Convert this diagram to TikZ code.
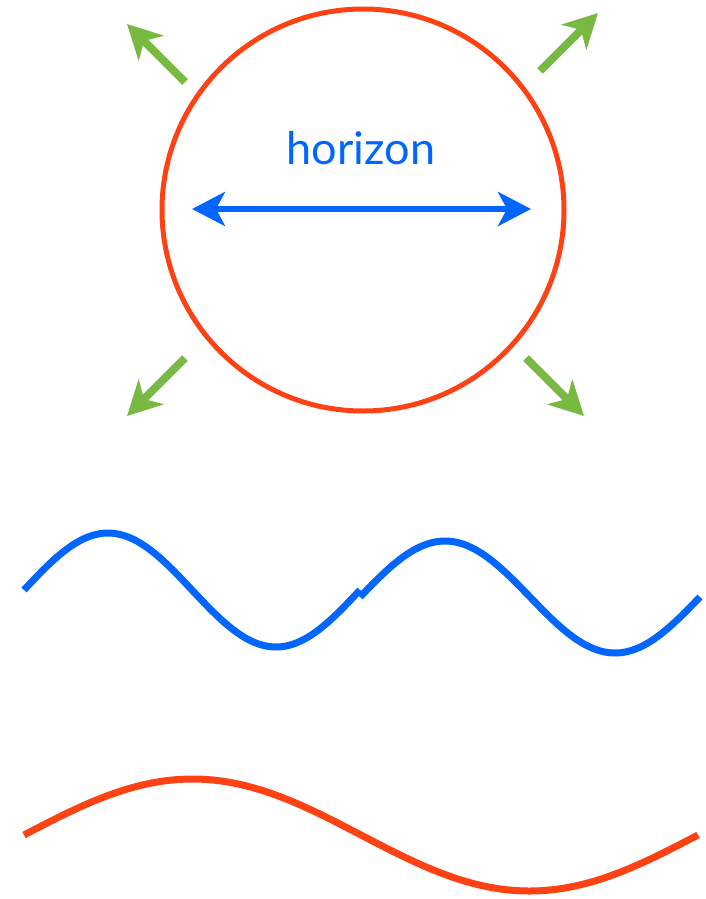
\documentclass[tikz,border=0pt]{standalone}
\usepackage{fontspec}
\setmainfont{Lato}
\usetikzlibrary{arrows.meta}
\definecolor{horizonred}{RGB}{255,66,20}
\definecolor{signalblue}{RGB}{0,102,255}
\definecolor{flowgreen}{RGB}{120,185,66}

\begin{document}
\begin{tikzpicture}[
  x=1pt, y=-1pt,
  horizonline/.style={draw=horizonred, line width=5pt},
  bluewave/.style={draw=signalblue, line width=7pt},
  redwave/.style={draw=horizonred, line width=7pt},
  span/.style={draw=signalblue, line width=5.5pt,
    {Stealth[length=33pt, width=34pt, inset=9pt]}-{Stealth[length=33pt, width=34pt, inset=9pt]}},
  outflow/.style={draw=flowgreen, line width=8pt,
    -{Stealth[length=34pt, width=35pt, inset=10pt]}}
]
  \useasboundingbox (0,0) rectangle (706,899);

  % horizon circle and its width
  \node[circle, horizonline, minimum size=402pt, inner sep=0pt] (hole) at (363,210) {};
  \coordinate (spanL) at (192,209);
  \coordinate (spanR) at (531,209);
  \draw[span] (spanL) -- (spanR);
  \node[text=signalblue, anchor=base, font=\fontsize{45}{50}\selectfont] (label) at (361,164) {horizon};

  % radiation leaving the hole
  \coordinate (nwA) at (185,82);  \coordinate (nwB) at (127,24);
  \coordinate (neA) at (540,71);  \coordinate (neB) at (598,13);
  \coordinate (swA) at (185,358); \coordinate (swB) at (127,416);
  \coordinate (seA) at (526,358); \coordinate (seB) at (584,416);
  \draw[outflow] (nwA) -- (nwB);
  \draw[outflow] (neA) -- (neB);
  \draw[outflow] (swA) -- (swB);
  \draw[outflow] (seA) -- (seB);

  % short wavelength
  \draw[bluewave] plot[domain=0:360, samples=90, smooth] ({24+\x/360*336}, {590-57*sin(\x)});
  \draw[bluewave] plot[domain=0:360, samples=90, smooth] ({360+\x/360*340}, {597-56*sin(\x)});

  % long wavelength
  \draw[redwave] plot[domain=0:360, samples=120, smooth] ({24+\x/360*674}, {835-56*sin(\x)});
\end{tikzpicture}
\end{document}
